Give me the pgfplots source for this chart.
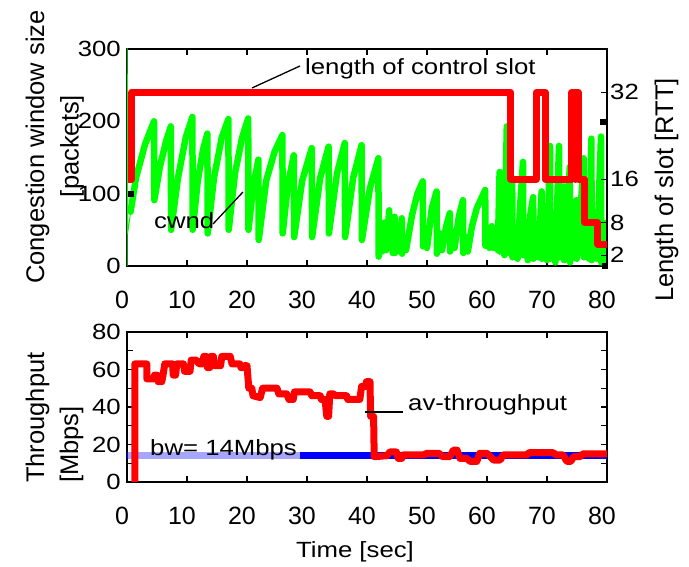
\documentclass[border=0pt]{standalone}
\usepackage{fontspec}
\setmainfont{Liberation Sans}
\newfontfamily\ws[FakeStretch=1.17]{Liberation Sans}
\usepackage{pgfplots}
\pgfplotsset{compat=1.18}

\definecolor{cgreen}{RGB}{0,255,0}
\definecolor{cred}{RGB}{255,0,0}
\definecolor{cblue}{RGB}{0,0,255}

\newcommand{\tickx}{\fontsize{25}{30}\selectfont}
\newcommand{\ticky}{\ws\fontsize{22}{26}\selectfont}
\newcommand{\lab}{\fontsize{25.5}{30}\selectfont}
\newcommand{\ann}{\ws\fontsize{22}{26}\selectfont}

\pgfplotsset{
  base/.style={
    scale only axis, width=480pt,
    xmin=0, xmax=80,
    axis line style={line width=1.2pt},
    tick style={black, line width=1.2pt},
    tick align=inside,
    major tick length=6pt, minor tick length=6pt,
    /pgf/number format/assume math mode=true,
    xtick={0,10,...,80},
    xticklabel style={font=\tickx, inner sep=0pt, yshift=-25pt, xshift=-5pt},
  }
}

\begin{document}
\begin{tikzpicture}
\useasboundingbox (0,0) rectangle (689pt,567pt);

% top panel, left axis: cwnd
\begin{axis}[base, at={(127pt,301pt)}, anchor=south west, height=217pt,
  ymin=0, ymax=300, ytick={0,100,200,300}, ytick pos=left,
  yticklabel style={font=\ticky, inner sep=0pt, xshift=-6pt}]
\addplot[cgreen, line width=1pt] coordinates {(0,0) (0.03,310) (0.1,45) (0.7,80)};
\addplot[cgreen, line width=6.5pt, line join=round, line cap=round] coordinates {
(0.6,75) (1.5,122) (3,168) (4.5,200) (4.55,91) (5.5,138) (6.5,172) (7.3,193)
(7.35,50) (8.5,122) (9.8,178) (10.9,206) (10.95,50) (11.8,118) (12.7,162) (13.4,183)
(13.45,45) (14.5,122) (15.8,178) (16.9,203) (16.95,50) (18,128) (19.2,178) (20.2,204)
(20.25,50) (21,108) (21.9,147) (21.95,36) (23.2,118) (24.6,158) (25.9,181)
(25.95,45) (26.8,112) (27.8,153) (27.85,40) (29.2,118) (30.8,163) (30.85,40)
(32.2,122) (33.6,165) (33.65,45) (35,128) (36.3,170) (36.35,40) (37.7,122) (39.1,167)
(39.15,36) (40.5,108) (41.9,149) (41.95,13) (42.2,45) (42.5,20) (42.9,60) (43.2,22)
(43.7,77) (43.75,25) (44.1,50) (44.3,18) (44.6,68) (44.65,18) (45.2,45) (45.4,20)
(45.8,66) (45.85,17) (46.2,38) (46.5,22) (47.5,70) (48.4,100) (49.3,117) (49.35,27)
(49.7,45) (50,25) (50.8,80) (51.6,103) (51.65,17) (52.2,45) (52.5,22) (53.2,55)
(53.8,73) (53.85,20) (54.3,48) (54.6,25) (55.3,68) (56,91) (56.05,18) (56.5,40)
(56.8,20) (57.5,55) (58.3,80) (59.7,105) (59.75,28) (60.1,50) (60.4,25) (60.8,55)
(61.1,25) (61.5,50) (61.8,22) (62.1,130) (62.15,20) (62.6,55) (62.9,15) (63.3,193)
(63.35,18) (63.8,60) (64.2,121) (64.25,12) (64.7,50) (65.1,10) (65.5,80) (66,144)
(66.05,15) (66.4,55) (66.8,8) (67.2,70) (67.7,95) (67.75,10) (68.2,45) (68.6,12)
(69.1,103) (69.15,10) (69.6,60) (70,8) (70.5,166) (70.55,10) (71,50) (71.4,5)
(72,166) (72.05,12) (72.4,40) (72.8,110) (72.85,8) (73.3,55) (73.8,137) (73.85,5)
(74.3,45) (74.9,91) (74.95,10) (75.5,60) (76.1,149) (76.15,12) (76.6,50) (77,10)
(77.4,176) (77.45,8) (77.9,45) (78.3,10) (79,179) (79.05,5) (79.5,40) (79.8,3) (80,60)
};
\addplot[only marks, mark=square*, mark size=2.5pt, black] coordinates {(0.6,100) (79.3,200) (79.6,0)};
\end{axis}

% top panel, right axis: length of control slot
\begin{axis}[base, at={(127pt,301pt)}, anchor=south west, height=217pt,
  axis y line*=right, axis x line=none,
  ymin=0, ymax=40, ytick={2,8,16,32},
  yticklabel style={font=\ticky, inner sep=0pt, xshift=3pt}]
\addplot[cred, line width=7pt, line join=round] coordinates {
(0.2,16) (0.75,16) (0.75,32) (64.0,32) (64.0,16) (68.2,16) (68.2,32) (69.7,32)
(69.7,16) (74.1,16) (74.1,32) (74.7,32) (74.7,16) (74.75,16) (74.75,32) (75.2,32)
(75.2,16) (76.3,16) (76.3,8) (78.5,8) (78.5,4) (80,4)
};
\end{axis}

% bottom panel: throughput
\begin{axis}[base, at={(127pt,85pt)}, anchor=south west, height=150pt,
  ymin=0, ymax=80, ytick={0,20,...,80}, minor ytick={10,30,50,70},
  yticklabel pos=left,
  yticklabel style={font=\ticky, inner sep=0pt, xshift=-6pt}]
\addplot[cblue, line width=6.5pt] coordinates {(0,14) (80,14)};
\fill[white, fill opacity=0.65] (axis cs:0.15,10) rectangle (axis cs:28.8,18);
\addplot[cred, line width=7pt, line join=round] coordinates {
(1.3,-5) (1.3,63) (3.3,63) (3.3,55) (4.4,55) (4.6,57) (5,57) (5.2,53.5) (5.8,53.5)
(6,57) (6.3,63) (7.6,63) (7.7,57) (8.1,57) (8.3,63) (9.4,63) (9.6,59) (10.5,59)
(10.7,65) (11.6,65) (12,63) (12.6,63) (12.8,67) (13.2,67) (13.4,61) (13.8,61) (14,67)
(14.4,67) (14.6,62) (15.6,62) (15.8,67) (17.2,67) (17.5,63) (18.8,63) (19,61)
(19.3,61) (19.5,62) (20,62) (20.3,50) (20.8,50) (21,46) (22.2,45) (22.6,50) (25,50)
(25.3,47) (26.6,47) (27,44) (27.7,44) (27.9,48) (30.5,48) (30.8,46) (32.2,46)
(32.4,44) (33,44) (33.3,35) (33.6,35) (33.8,47) (34.4,47) (34.8,46) (36.6,46)
(36.8,44) (38.8,44) (39.1,51) (39.8,51) (39.9,53.5) (40.5,53.5) (40.6,35) (41.1,35)
(41.2,13.5) (43.3,14) (43.8,16) (44.9,16) (45.2,12.6) (45.8,12.6) (46,14.4)
(49.4,14.4) (50,15.3) (52,15.3) (52.6,13.5) (53.8,13.5) (54.4,17) (55,17) (55.5,12.6)
(56.6,12.6) (57.2,11) (58.3,11) (58.8,15.3) (60,15.3) (61.1,11.7) (62.2,11.7)
(62.7,14.4) (66.6,14.4) (67,15.6) (71,15.6) (71.6,14.4) (72.7,14.4) (73.3,11) (74,11)
(74.4,13.5) (75.5,13.5) (76,15) (80,15)
};
\end{axis}

% labels and annotations, in image pixel units
\begin{scope}[x=1pt, y=-1pt, shift={(0pt,567pt)}]
\draw[line width=1.3pt] (252,88) -- (300,66);
\node[anchor=base west, inner sep=0pt, font=\ann] at (305,75) {length of control slot};
\draw[line width=1.3pt] (213,224) -- (243,192);
\node[anchor=base west, inner sep=0pt, font=\ann] at (154,229) {cwnd};
\draw[line width=1.3pt] (365,412) -- (403,412);
\node[anchor=base west, inner sep=0pt, font=\ann] at (408,411) {av-throughput};
\node[anchor=base west, inner sep=0pt, font=\ann] at (150,456) {bw= 14Mbps};
\node[rotate=90, anchor=base, inner sep=0pt, font=\lab] at (44,147) {Congestion window size};
\node[rotate=90, anchor=base, inner sep=0pt, font=\lab] at (78.5,146) {[packets]};
\node[rotate=90, anchor=base west, inner sep=0pt, font=\lab] at (44,483) {Throughput};
\node[rotate=90, anchor=base west, inner sep=0pt, font=\lab] at (78,483) {[Mbps]};
\node[rotate=90, anchor=base, inner sep=0pt, font=\lab] at (673,190) {Length of slot [RTT]};
\node[anchor=base, inner sep=0pt, font=\ann] at (355,558) {Time [sec]};
\end{scope}
\end{tikzpicture}
\end{document}
